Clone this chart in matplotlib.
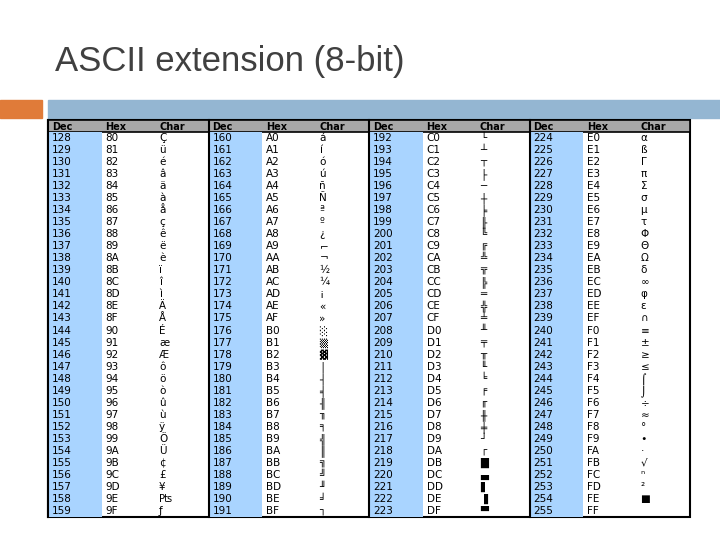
import matplotlib
matplotlib.use("Agg")
import matplotlib.pyplot as plt
from matplotlib.patches import Rectangle

title = "ASCII extension (8-bit)"
headers = ["Dec", "Hex", "Char"]
dec_values = list(range(128, 256))
hex_values = ["%02X" % d for d in dec_values]
char_values = list(bytes(dec_values).decode("cp437"))

fig = plt.figure(figsize=(7.2, 5.4), dpi=100)
ax = fig.add_axes([0, 0, 1, 1])
ax.set_xlim(0, 720); ax.set_ylim(540, 0); ax.axis("off")

ax.text(55, 62, title, fontsize=25, color="#404040", family=["Liberation Sans", "DejaVu Sans"], va="center")
ax.add_patch(Rectangle((0, 100), 42, 18, color="#E07B39"))
ax.add_patch(Rectangle((48, 100), 672, 18, color="#94B6D2"))

x0, x1, y0, y1 = 48, 690, 120, 517
hh = 12
rowh = (y1 - y0 - hh) / 32
gw = (x1 - x0) / 4
colw = gw / 3
ax.add_patch(Rectangle((x0, y0), x1 - x0, y1 - y0, facecolor="white", edgecolor="black", lw=1.5))
ax.add_patch(Rectangle((x0, y0), x1 - x0, hh, facecolor="#A8A8A8", edgecolor="black", lw=1.2))
for g in range(4):
    gx = x0 + g * gw
    ax.add_patch(Rectangle((gx, y0 + hh), colw, y1 - y0 - hh, facecolor="#A9D4FF", edgecolor="none"))
    ax.plot([gx, gx], [y0, y1], color="black", lw=1.5)
    for c, h in enumerate(headers):
        ax.text(gx + c * colw + 4, y0 + hh / 2 + 0.5, h, fontsize=7, fontweight="bold", va="center", family=["DejaVu Sans"])
    for r in range(32):
        i = g * 32 + r
        yy = y0 + hh + (r + 0.5) * rowh
        ax.text(gx + 4, yy, str(dec_values[i]), fontsize=7.5, va="center")
        ax.text(gx + colw + 4, yy, hex_values[i], fontsize=7.5, va="center")
        ax.text(gx + 2 * colw + 4, yy, char_values[i], fontsize=7.5, va="center", family=["DejaVu Sans"])

fig.savefig("out.png", dpi=100)
